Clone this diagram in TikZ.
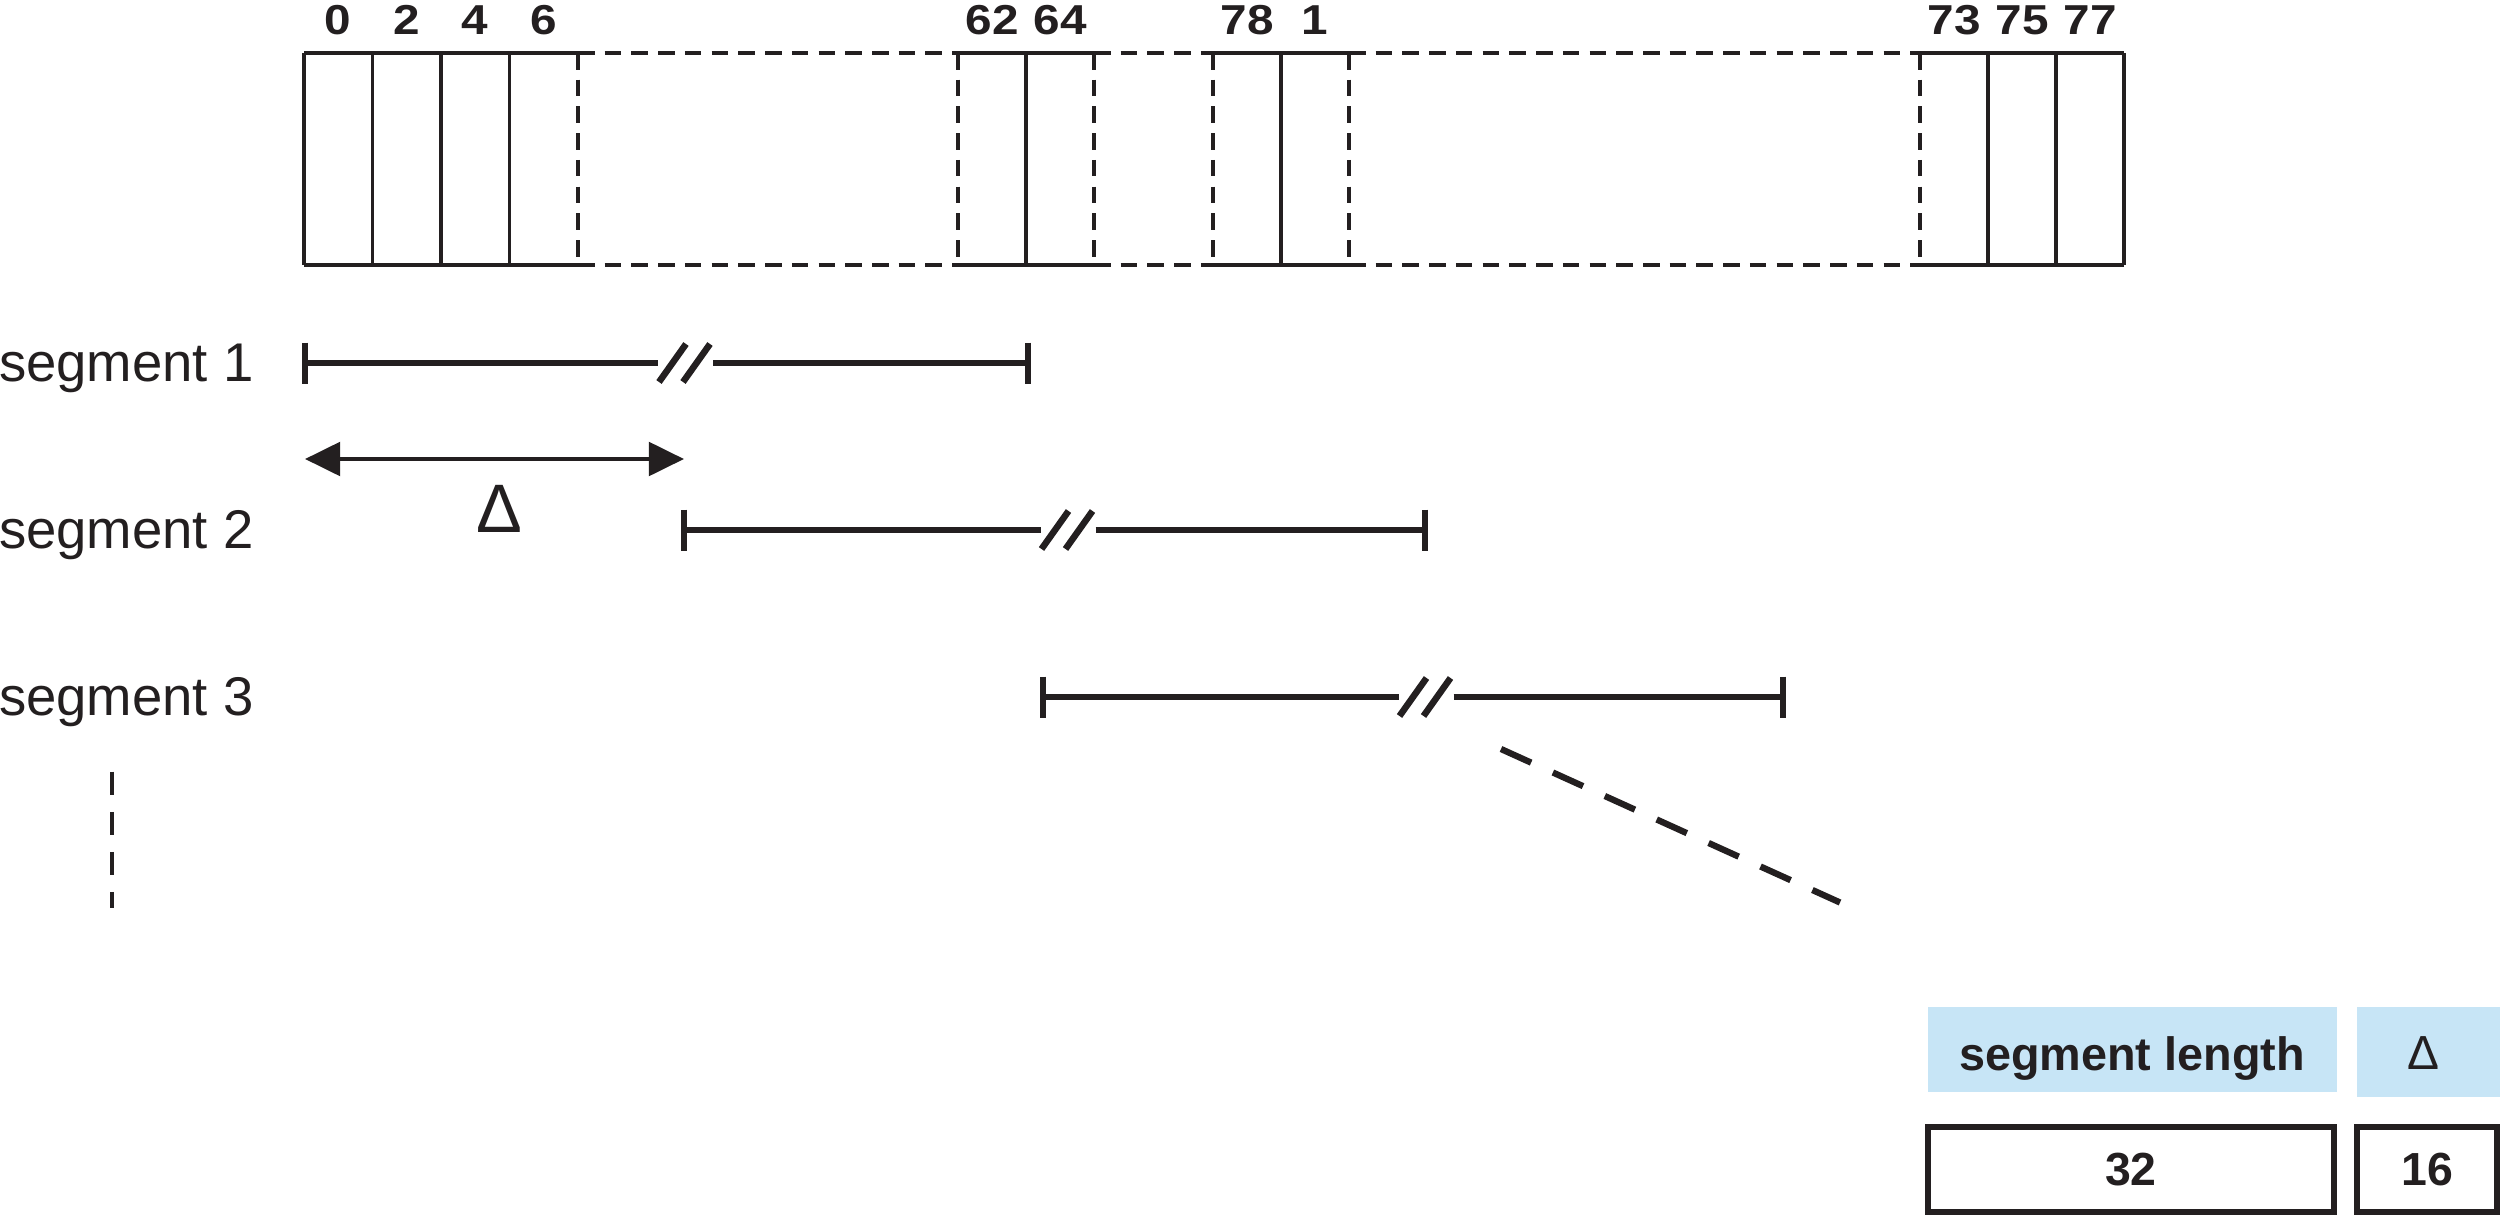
\documentclass[tikz,border=0pt]{standalone}
\usepackage{fontspec}
\setmainfont{Liberation Sans}
\newfontfamily\idxfont[FakeStretch=1.14]{Liberation Sans}
\usetikzlibrary{arrows.meta}
\definecolor{lblue}{RGB}{199,229,246}
\definecolor{ink}{RGB}{35,31,32}
\begin{document}
\begin{tikzpicture}[x=0.01cm,y=-0.01cm,
  every node/.style={inner sep=0pt, outer sep=0pt, text=ink},
  hline/.style={draw=ink, line width=1.1pt},
  vline/.style={draw=ink, line width=0.95pt},
  dline/.style={draw=ink, line width=0.95pt, dash pattern=on 4.7pt off 2.9pt},
  segl/.style={draw=ink, line width=1.85pt},
  idx/.style={font=\idxfont\bfseries\fontsize{11.9}{12}\selectfont, anchor=base},
  lab/.style={font=\fontsize{15.5}{16}\selectfont, anchor=base west},
  bluebox/.style={fill=lblue, draw=none},
  blackbox/.style={draw=ink, line width=1.75pt, fill=white, font=\bfseries\fontsize{13.2}{14}\selectfont},
  boxtext/.style={font=\bfseries\fontsize{13.3}{14}\selectfont, anchor=base},
  dblarrow/.style={draw=ink, line width=1.25pt, {Triangle[length=10pt,width=9.5pt]}-{Triangle[length=10pt,width=9.5pt]}}
]
\useasboundingbox (0,0) rectangle (2500,1215);

% ---------- array ----------
% group A
\draw[hline] (304,53) -- (578,53);
\draw[hline] (304,265) -- (578,265);
\foreach \x in {304,372.5,441,509.5} \draw[vline] (\x,53) -- (\x,265);
\draw[dline] (578,53) -- (578,265);
% gap 1
\draw[dline] (578,53) -- (958,53);
\draw[dline] (578,265) -- (958,265);
\draw[dline] (958,53) -- (958,265);
% group B
\draw[hline] (958,53) -- (1094,53);
\draw[hline] (958,265) -- (1094,265);
\draw[vline] (1026,53) -- (1026,265);
\draw[dline] (1094,53) -- (1094,265);
% gap 2
\draw[dline] (1094,53) -- (1213,53);
\draw[dline] (1094,265) -- (1213,265);
\draw[dline] (1213,53) -- (1213,265);
% group C
\draw[hline] (1213,53) -- (1349,53);
\draw[hline] (1213,265) -- (1349,265);
\draw[vline] (1281,53) -- (1281,265);
\draw[dline] (1349,53) -- (1349,265);
% gap 3
\draw[dline] (1349,53) -- (1920,53);
\draw[dline] (1349,265) -- (1920,265);
\draw[dline] (1920,53) -- (1920,265);
% group D
\draw[hline] (1920,53) -- (2124,53);
\draw[hline] (1920,265) -- (2124,265);
\foreach \x in {1988,2056,2124} \draw[vline] (\x,53) -- (\x,265);

% indices
\foreach \n/\x in {0/338.25, 2/406.75, 4/475.25, 6/543.75, 62/992, 64/1060, 78/1247, 1/1315, 73/1954, 75/2022, 77/2090}
  \node[idx] (i\n) at (\x,34.5) {\n};

% ---------- segments ----------
\node[lab] (l1) at (-1,381.5) {segment 1};
\node[lab] (l2) at (-1,548.5) {segment 2};
\node[lab] (l3) at (-1,715.5) {segment 3};

\foreach \i/\a/\b/\c/\y in {1/305/1028/685/363, 2/684/1425/1067.5/530, 3/1043/1783/1425.5/697} {
  \coordinate (s\i a) at (\a,\y);
  \coordinate (s\i b) at (\b,\y);
  \coordinate (s\i l) at (\c-27,\y);
  \coordinate (s\i r) at (\c+28,\y);
  \draw[segl] (s\i a) -- (s\i l);
  \draw[segl] (s\i r) -- (s\i b);
  \draw[segl] (\a,\y-20.5) -- (\a,\y+20.5);
  \draw[segl] (\b,\y-20.5) -- (\b,\y+20.5);
  \draw[segl] (\c-26,\y+19) -- (\c+1,\y-19);
  \draw[segl] (\c-2,\y+19) -- (\c+25,\y-19);
}

% delta arrow
\coordinate (da) at (305,459);
\coordinate (db) at (684,459);
\draw[dblarrow] (da) -- (db);
\node[font=\fontsize{19.5}{20}\selectfont, anchor=base] (dl) at (499,532.3) {Δ};

% continuation marks
\coordinate (v1) at (112,771.7);
\coordinate (v2) at (112,908.3);
\draw[draw=ink, line width=0.95pt, dash pattern=on 6.64pt off 4.75pt] (v1) -- (v2);
\coordinate (g1) at (1501,749);
\coordinate (g2) at (1840,902.5);
\draw[draw=ink, line width=1.8pt, dash pattern=on 9.4pt off 6.8pt] (g1) -- (g2);

% ---------- parameter boxes ----------
\node[bluebox, minimum width=4.09cm, minimum height=0.844cm] (hl) at (2132.1,1049.5) {};
\node[boxtext] (hlt) at (2132,1070) {segment length};
\node[bluebox, minimum width=1.427cm, minimum height=0.894cm] (hd) at (2428.65,1052) {};
\node[font=\fontsize{13.6}{14}\selectfont, anchor=base] (hdt) at (2423.5,1069.3) {Δ};

\node[blackbox, minimum width=4.057cm, minimum height=0.85cm] (v32) at (2130.85,1169.5) {32};
\node[blackbox, minimum width=1.397cm, minimum height=0.85cm] (v16) at (2427.15,1169.5) {16};
\end{tikzpicture}
\end{document}
